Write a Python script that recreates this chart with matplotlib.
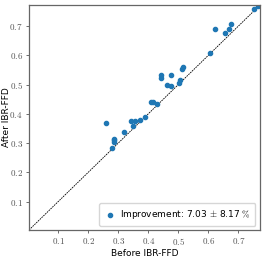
import numpy as np
import matplotlib
matplotlib.use("Agg")
import matplotlib.pyplot as plt

plt.rcParams["mathtext.fontset"] = "cm"

# -----------------------------------
# DATA
# -----------------------------------
before = [0.259, 0.278, 0.287, 0.287, 0.287, 0.321, 0.343, 0.357, 0.349, 0.372,
          0.390, 0.408, 0.415, 0.431, 0.441, 0.443, 0.461, 0.477, 0.477, 0.504,
          0.506, 0.512, 0.516, 0.607, 0.623, 0.655, 0.670, 0.677, 0.754, 0.767]
after = [0.368, 0.282, 0.315, 0.310, 0.305, 0.338, 0.377, 0.377, 0.357, 0.378,
         0.391, 0.442, 0.441, 0.433, 0.532, 0.524, 0.499, 0.495, 0.532, 0.506,
         0.517, 0.552, 0.559, 0.609, 0.692, 0.676, 0.692, 0.708, 0.759, 0.768]

ticks = [0.1, 0.2, 0.3, 0.4, 0.5, 0.6, 0.7]
tick_labels = [r"$0.1$", r"$0.2$", r"$0.3$", r"$0.4$", r"$0.5$", r"$0.6$", r"$0.7$"]
legend_label = r"Improvement: 7.03 $\pm$ 8.17 $\%$"
lims = (0.003, 0.772)

# -----------------------------------
# PLOT
# -----------------------------------
fig = plt.figure(figsize=(2.66, 2.57), dpi=100)
ax = fig.add_axes([0.109, 0.105, 0.868, 0.875])

ax.plot(lims, lims, color="k", linestyle=(0, (2, 1)), lw=0.6, zorder=1)
ax.scatter(before, after, s=9, color="#1f77b4", zorder=2, label=legend_label)

ax.set_xlim(lims)
ax.set_ylim(lims)
ax.set_xticks(ticks)
ax.set_xticklabels(tick_labels)
ax.set_yticks(ticks)
ax.set_yticklabels(tick_labels)
ax.tick_params(labelsize=6.5, colors="#555555", length=2.5, width=0.6, pad=2)

for s in ax.spines.values():
    s.set_color("#666666")
    s.set_linewidth(0.9)

ax.set_xlabel("Before IBR-FFD", fontsize=6.5, labelpad=1)
ax.set_ylabel("After IBR-FFD", fontsize=6.5)
ax.yaxis.set_label_coords(-0.078, 0.5)

leg = ax.legend(loc="lower right", fontsize=6.5, handletextpad=0.3,
                borderpad=0.5, borderaxespad=0.5, handlelength=1.5)
leg.get_frame().set_edgecolor("#cccccc")

plt.savefig("out.png", dpi=100)
